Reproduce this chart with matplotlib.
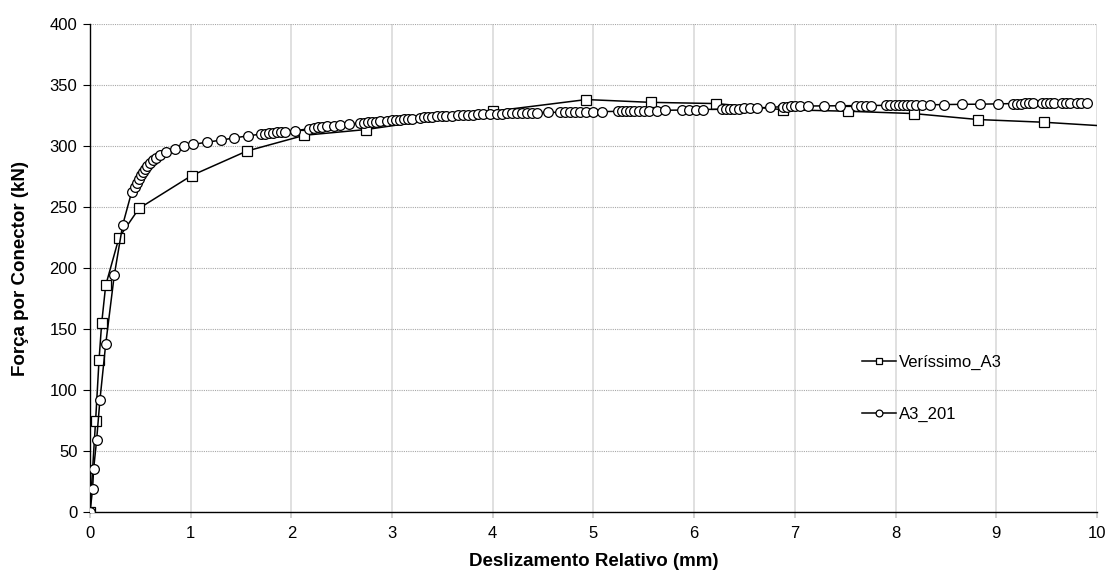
import numpy as np
import matplotlib.pyplot as plt

plt.rcParams['font.family'] = ['Liberation Sans', 'DejaVu Sans']

# Veríssimo_A3 (ensaio)
ver_x = [0, 0.056, 0.09, 0.116, 0.156, 0.288, 0.487, 1.01, 1.556, 2.13, 2.74,
         4.0, 4.93, 5.57, 6.22, 6.88, 7.53, 8.18, 8.82, 9.47, 10.1]
ver_f = [0, 75, 124.6, 154.7, 185.8, 225, 249, 276, 296, 309, 313.7,
         328.7, 338.3, 336, 335, 330, 328.7, 326.8, 321.9, 319.7, 316.5]

# A3_201 (modelo)
a3_x = [0, 0.026, 0.036, 0.066, 0.099, 0.156, 0.241, 0.325, 0.414, 0.447,
        0.47, 0.49, 0.51, 0.53, 0.55, 0.57, 0.60, 0.63, 0.66, 0.695,
        0.755, 0.844, 0.93, 1.02, 1.16, 1.30, 1.43, 1.566, 1.70, 1.74,
        1.78, 1.82, 1.86, 1.90, 1.94, 2.04, 2.18, 2.22, 2.26, 2.30,
        2.35, 2.42, 2.48, 2.57, 2.68, 2.72, 2.76, 2.80, 2.84, 2.88,
        2.95, 3.00, 3.04, 3.08, 3.12, 3.16, 3.20, 3.28, 3.32, 3.36,
        3.40, 3.45, 3.50, 3.54, 3.60, 3.65, 3.70, 3.75, 3.80, 3.85,
        3.90, 3.97, 4.04, 4.09, 4.14, 4.19, 4.24, 4.29, 4.34, 4.39,
        4.44, 4.55, 4.67, 4.72, 4.77, 4.82, 4.87, 4.93, 5.00, 5.08,
        5.24, 5.28, 5.32, 5.36, 5.40, 5.45, 5.50, 5.55, 5.63, 5.71,
        5.88, 5.95, 6.02, 6.09, 6.28, 6.32, 6.36, 6.40, 6.45, 6.50,
        6.55, 6.62, 6.75, 6.88, 6.92, 6.96, 7.00, 7.05, 7.13, 7.29,
        7.45, 7.61, 7.66, 7.71, 7.76, 7.91, 7.95, 7.99, 8.03, 8.07,
        8.11, 8.15, 8.20, 8.26, 8.34, 8.48, 8.66, 8.84, 9.02, 9.17,
        9.21, 9.25, 9.29, 9.33, 9.37, 9.45, 9.49, 9.53, 9.57, 9.65,
        9.69, 9.73, 9.80, 9.84, 9.90]
a3_f = [0, 18.6, 35, 59, 92, 137.5, 194, 235.5, 262.5, 266.6,
        270, 273.5, 276.5, 279, 281.5, 283.5, 286, 288.5, 290.5, 292.6,
        295.3, 297.5, 300, 301.5, 303.3, 305, 306.8, 308.5, 310, 310.4,
        310.8, 311.1, 311.4, 311.7, 312, 312.7, 314.5, 315, 315.5, 316,
        316.5, 317, 317.8, 318.3, 319, 319.3, 319.6, 319.9, 320.2, 320.4,
        320.8, 321.2, 321.5, 321.8, 322.1, 322.4, 322.7, 323.3, 323.6, 323.9,
        324.1, 324.4, 324.6, 324.8, 325.1, 325.3, 325.5, 325.7, 325.9, 326.1,
        326.3, 326.5, 326.7, 326.8, 326.9, 327.0, 327.2, 327.3, 327.4, 327.5,
        327.6, 327.7, 327.9, 328, 328, 328.1, 328.1, 328.2, 328.3, 328.4,
        328.6, 328.7, 328.8, 328.8, 328.9, 329, 329.1, 329.2, 329.3, 329.5,
        329.7, 329.9, 330, 330.1, 330.5, 330.6, 330.7, 330.8, 330.9, 331,
        331.1, 331.4, 332, 332.5, 332.6, 332.7, 332.8, 332.9, 333, 333.1,
        333.2, 333.3, 333.3, 333.4, 333.4, 333.5, 333.6, 333.6, 333.7, 333.7,
        333.8, 333.8, 333.9, 334, 334, 334.2, 334.4, 334.5, 334.8, 335,
        335, 335, 335.1, 335.1, 335.1, 335.2, 335.2, 335.2, 335.3, 335.3,
        335.3, 335.4, 335.4, 335.4, 335.5]

x_ticks = np.arange(0, 11, 1)
y_ticks = np.arange(0, 401, 50)

fig = plt.figure(figsize=(11.08, 5.71), dpi=100)
ax = fig.add_axes([0.0812, 0.1033, 0.9088, 0.8541])

ax.plot(ver_x, ver_f, color='black', lw=1.1, marker='s', ms=7,
        mfc='white', mec='black', mew=0.9, label='Veríssimo_A3', zorder=3)
ax.plot(a3_x, a3_f, color='black', lw=1.1, marker='o', ms=7,
        mfc='white', mec='black', mew=0.9, label='A3_201', zorder=4)

ax.set_xlim(0, 10)
ax.set_ylim(0, 400)
ax.set_xticks(x_ticks)
ax.set_yticks(y_ticks)

# grade: verticais cinza claro, horizontais pontilhadas
ax.xaxis.grid(True, color='#e0e0e0', lw=1.4, ls='-')
ax.yaxis.grid(True, color='#a8a8a8', lw=0.8, ls=(0, (1, 1)))
ax.set_axisbelow(True)

for s in ['top', 'right']:
    ax.spines[s].set_visible(False)
ax.spines['left'].set_linewidth(1.0)
ax.spines['bottom'].set_linewidth(1.0)

ax.tick_params(axis='y', direction='out', length=5, width=0.8, labelsize=12, pad=4)
ax.tick_params(axis='x', direction='out', length=4, width=1.2, color='#c8c8c8',
               labelsize=12, pad=6)

ax.set_xlabel('Deslizamento Relativo (mm)', fontsize=13.5, fontweight='bold', labelpad=9)
ax.set_ylabel('Força por Conector (kN)', fontsize=13.5, fontweight='bold', labelpad=15)

ax.legend(loc='center left', bbox_to_anchor=(0.767, 0.253), frameon=False,
          fontsize=12, labelspacing=2.2, handlelength=2.0, handletextpad=0.2,
          borderpad=0, borderaxespad=0, markerscale=0.7)

fig.savefig('out.png', dpi=100)
